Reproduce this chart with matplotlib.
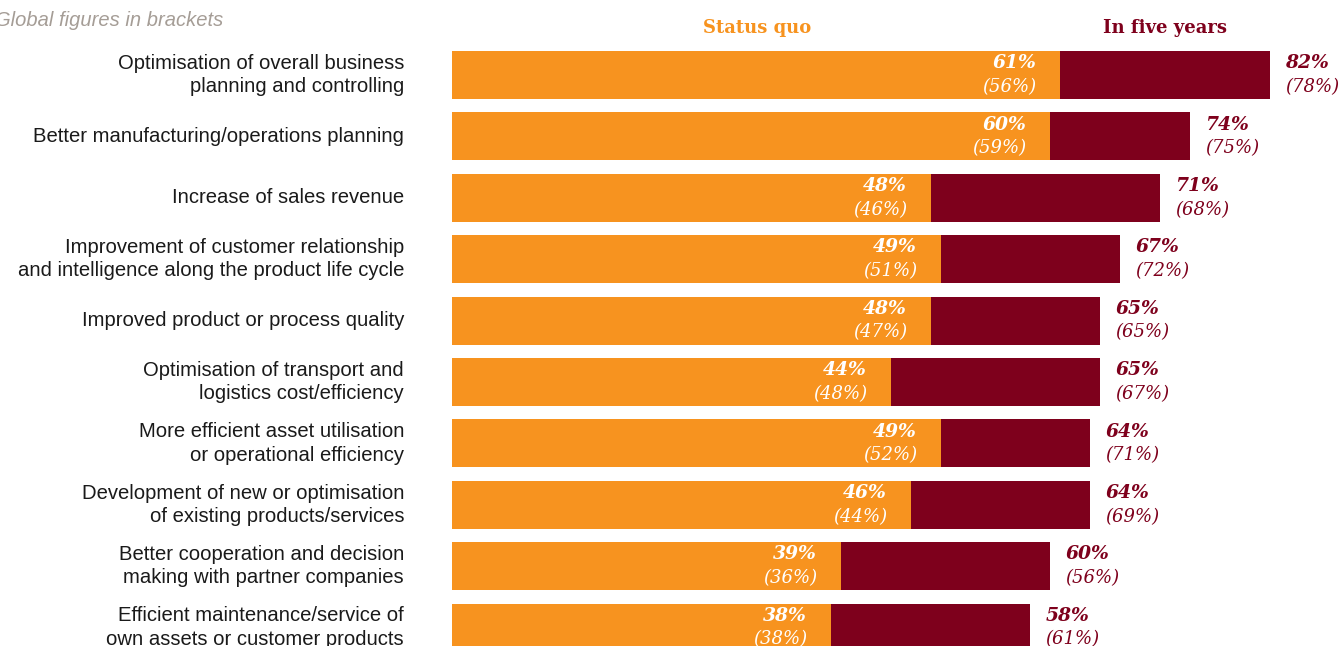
import numpy as np
import matplotlib
matplotlib.use('Agg')
import matplotlib.pyplot as plt

categories = [
    'Optimisation of overall business\nplanning and controlling',
    'Better manufacturing/operations planning',
    'Increase of sales revenue',
    'Improvement of customer relationship\nand intelligence along the product life cycle',
    'Improved product or process quality',
    'Optimisation of transport and\nlogistics cost/efficiency',
    'More efficient asset utilisation\nor operational efficiency',
    'Development of new or optimisation\nof existing products/services',
    'Better cooperation and decision\nmaking with partner companies',
    'Efficient maintenance/service of\nown assets or customer products',
]
status_quo = [61, 60, 48, 49, 48, 44, 49, 46, 39, 38]
status_quo_global = [56, 59, 46, 51, 47, 48, 52, 44, 36, 38]
five_years = [82, 74, 71, 67, 65, 65, 64, 64, 60, 58]
five_years_global = [78, 75, 68, 72, 65, 67, 71, 69, 56, 61]

ORANGE = '#F7931F'
DARKRED = '#7E001C'
SERIF = 'DejaVu Serif'
SANS = 'Liberation Sans'

W, H = 1338, 646
fig = plt.figure(figsize=(W / 100, H / 100), dpi=100)
ax = fig.add_axes([452 / W, 0, 1 - 452 / W, 1])

px_per_pct = 9.97
ax.set_xlim(0, (W - 452) / px_per_pct)
ax.set_ylim(H, 0)
ax.axis('off')

ys = 75 + np.arange(len(categories)) * 61.4
bar_h = 48

s_arr = np.array(status_quo)
f_arr = np.array(five_years)
ax.barh(ys, f_arr - s_arr, left=s_arr, height=bar_h, color=DARKRED, linewidth=0)
ax.barh(ys, s_arr, height=bar_h, color=ORANGE, linewidth=0)

for y, cat, s, sg, f, fg in zip(ys, categories, status_quo, status_quo_global,
                                five_years, five_years_global):
    ax.annotate(cat, xy=(0, y), xytext=(-34.5, 0), textcoords='offset points',
                ha='right', va='center', fontsize=14.6, family=SANS,
                color='#1a1a1a', linespacing=1.3)
    ax.annotate(f'{s}%', xy=(s, y), xytext=(-17, 8.5), textcoords='offset points',
                ha='right', va='center', fontsize=13.5, family=SERIF,
                fontweight='bold', fontstyle='italic', color='white')
    ax.annotate(f'({sg}%)', xy=(s, y), xytext=(-17, -8.5), textcoords='offset points',
                ha='right', va='center', fontsize=13, family=SERIF,
                fontstyle='italic', color='white')
    ax.annotate(f'{f}%', xy=(f, y), xytext=(11, 8.5), textcoords='offset points',
                ha='left', va='center', fontsize=13.5, family=SERIF,
                fontweight='bold', fontstyle='italic', color=DARKRED)
    ax.annotate(f'({fg}%)', xy=(f, y), xytext=(11, -8.5), textcoords='offset points',
                ha='left', va='center', fontsize=13, family=SERIF,
                fontstyle='italic', color=DARKRED)

fig.text(757 / W, 1 - 28 / H, 'Status quo', ha='center', va='center',
         fontsize=13, family=SERIF, fontweight='bold', color=ORANGE)
fig.text(1165 / W, 1 - 28 / H, 'In five years', ha='center', va='center',
         fontsize=13, family=SERIF, fontweight='bold', color=DARKRED)
fig.text(-5 / W, 1 - 21 / H, 'Global figures in brackets', ha='left', va='center',
         fontsize=14.5, family=SANS, fontstyle='italic', color='#a59d96')

fig.savefig('out.png', dpi=100)
